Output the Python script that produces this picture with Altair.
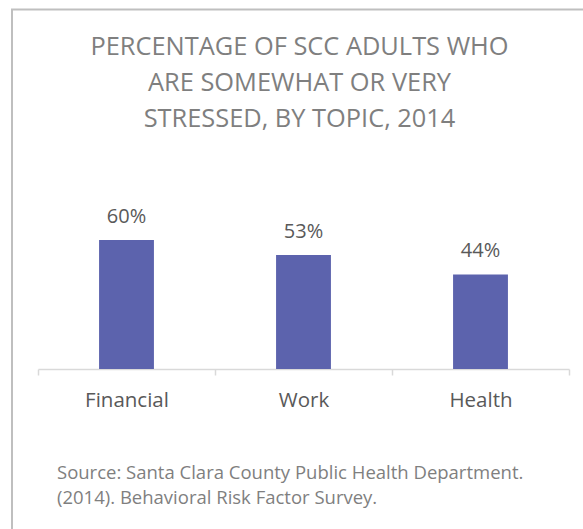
import altair as alt
import pandas as pd

topics = ["Financial", "Work", "Health"]
percents = [60, 53, 44]
title_lines = ["PERCENTAGE OF SCC ADULTS WHO", "ARE SOMEWHAT OR VERY", "STRESSED, BY TOPIC, 2014"]
source_lines = ["Source: Santa Clara County Public Health Department.", "(2014). Behavioral Risk Factor Survey."]

FONT = "Open Sans"
df = pd.DataFrame({"topic": topics, "pct": percents})

base = alt.Chart(df).encode(
    x=alt.X(
        "topic:N",
        sort=topics,
        scale=alt.Scale(paddingInner=0, paddingOuter=0),
        axis=alt.Axis(
            title=None,
            labelAngle=0,
            labelFont=FONT,
            labelFontSize=20.5,
            labelColor="#595959",
            labelPadding=15,
            domainColor="#d9d9d9",
            domainWidth=1.5,
            tickColor="#d9d9d9",
            tickWidth=1.5,
            tickSize=6,
            tickBand="extent",
            grid=False,
        ),
    ),
    y=alt.Y("pct:Q", scale=alt.Scale(domain=[0, 100]), axis=None),
)

bars = base.mark_bar(color="#5c63ad", width=alt.RelativeBandSize(0.31))
labels = base.mark_text(
    dy=-17, baseline="alphabetic", align="center", font=FONT, fontSize=20, color="#595959"
).transform_calculate(lbl="datum.pct + '%'").encode(text="lbl:N")

title = alt.Chart(pd.DataFrame({"t": ["\n".join(title_lines)]})).mark_text(
    align="center", baseline="alphabetic", font=FONT, fontSize=25.4, color="#7f7f7f",
    lineBreak="\n", lineHeight=36,
).encode(x=alt.value(261.5), y=alt.value(-99), text="t:N")

src = alt.Chart(pd.DataFrame({"t": ["\n".join(source_lines)]})).mark_text(
    align="left", baseline="alphabetic", font=FONT, fontSize=18.5, color="#7f7f7f",
    lineBreak="\n", lineHeight=25,
).encode(x=alt.value(19), y=alt.value(325), text="t:N")

border = alt.Chart(pd.DataFrame({"a": [0]})).mark_rect(
    fillOpacity=0, stroke="#bfbfbf", strokeWidth=2
).encode(x=alt.value(-26), y=alt.value(-144.5), x2=alt.value(700), y2=alt.value(700))

chart = alt.layer(border, title, bars, labels, src).properties(
    width=531,
    height=215,
    padding={"left": 38, "top": 154, "right": 14, "bottom": 160},
    autosize=alt.AutoSizeParams(type="none"),
).configure_view(strokeWidth=0)

chart.save("out.html", embed_options={"renderer": "svg", "actions": False})
